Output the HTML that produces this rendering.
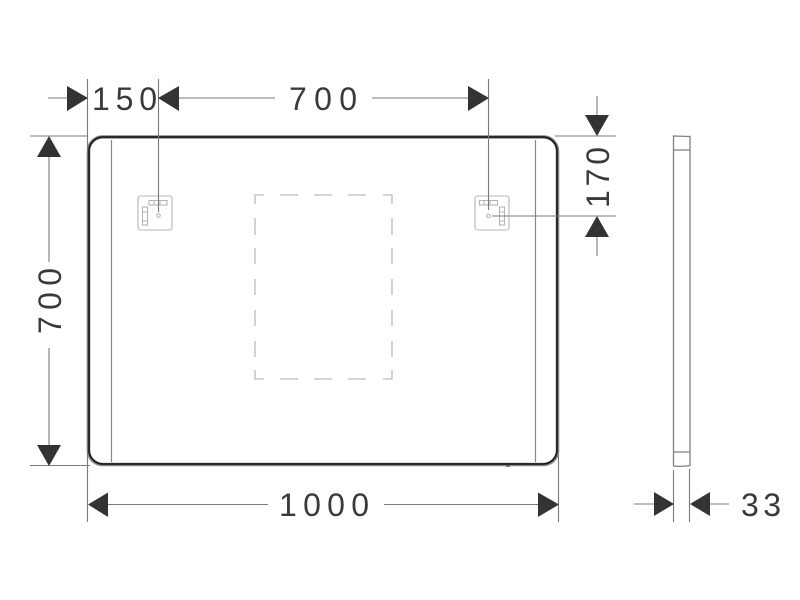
<!DOCTYPE html>
<html>
<head>
<meta charset="utf-8">
<style>
html,body{margin:0;padding:0;background:#fff;width:800px;height:600px;overflow:hidden}
svg{display:block}
text{font-family:"Liberation Sans",sans-serif;font-size:32px;fill:#3a3a3a}
</style>
</head>
<body>
<svg width="800" height="600" viewBox="0 0 800 600" xmlns="http://www.w3.org/2000/svg">
<rect width="800" height="600" fill="#fff"/>

<!-- mirror outline -->
<rect x="88.5" y="137" width="469" height="327.5" rx="14" fill="none" stroke="#888" stroke-width="3.6"/>
<rect x="89" y="137" width="468" height="327" rx="14" fill="none" stroke="#1c1c1c" stroke-width="1.8"/>
<path d="M111.5 140V462M535.5 140V462" stroke="#888" stroke-width="1.2" fill="none"/>
<path d="M506 466h4" stroke="#555" stroke-width="1.5"/>

<!-- dashed rectangle -->
<g fill="none" stroke="#bbb" stroke-width="1.300">
<path d="M264 195H255V204M383 195H392V204"/>
<path d="M264 379H255V370M383 379H392V370"/>
<path d="M280 195H298M314 195H332M348 195H366"/>
<path d="M280 379H298M314 379H332M348 379H366"/>
<path d="M255 218V235M255 248V264M255 279V295M255 310V326M255 341V357"/>
<path d="M392 218V235M392 248V264M392 279V295M392 310V326M392 341V357"/>
</g>

<!-- left bracket -->
<g fill="none" stroke="#b5b5b5" stroke-width="1.100">
<rect x="138" y="196" width="34" height="34" rx="2.500"/>
<rect x="149" y="200.500" width="18" height="4.500"/>
<path d="M154 200.500v4.500M160 200.500v4.500"/>
<rect x="142.500" y="207" width="5" height="18"/>
<path d="M142.500 212h5M142.500 221h5"/>
<circle cx="158.500" cy="215.500" r="1.800"/>
</g>

<!-- right bracket -->
<g fill="none" stroke="#b5b5b5" stroke-width="1.100">
<rect x="475" y="196" width="34" height="34" rx="2.500"/>
<rect x="479.500" y="200.500" width="18" height="4.500"/>
<path d="M484 200.500v4.500M490 200.500v4.500"/>
<rect x="499.500" y="207" width="5" height="18"/>
<path d="M499.500 212h5M499.500 221h5"/>
<circle cx="488.500" cy="216" r="1.800"/>
</g>

<!-- extension and dimension lines -->
<g stroke="#7a7a7a" stroke-width="1.100" fill="none">
<path d="M87.500 79V522"/>
<path d="M158.500 79V212"/>
<path d="M488.500 79V210"/>
<path d="M30 136H88M555 136H616"/>
<path d="M30 465.500H90"/>
<path d="M492 216H616"/>
<path d="M558.500 450V522"/>
<path d="M48 98H67M179 98H275M372 98H468"/>
<path d="M49 157V262M49 348V445"/>
<path d="M108 504.500H268M384 504.500H538"/>
<path d="M597 96V115M597 237V256"/>
<path d="M673.500 470V522M689.500 469V522"/>
<path d="M634 504H654M710 504H729"/>
</g>

<!-- side view -->
<g stroke="#808080" stroke-width="1.300" fill="none">
<path d="M673.500 136L690 136.500V465.500Q682 467 673.500 466Z"/>
<path d="M673.500 150H690M673.500 452H690"/>
</g>

<!-- arrowheads -->
<g fill="#333">
<path d="M88 98L67 86V111Z"/>
<path d="M158 98L179 86V111Z"/>
<path d="M489 98L468 86V111Z"/>
<path d="M49 136L37 157H61Z"/>
<path d="M49 466L37 445H61Z"/>
<path d="M88 504.500L108 492.500V517Z"/>
<path d="M559 504.500L538 492.500V517Z"/>
<path d="M597 136L585 115H609Z"/>
<path d="M597 216L585 237H609Z"/>
<path d="M674 504L654 492V516Z"/>
<path d="M690 504L710 492V516Z"/>
</g>

<!-- labels -->
<text x="92" y="110" textLength="65" lengthAdjust="spacing">150</text>
<text x="289" y="110" textLength="68" lengthAdjust="spacing">700</text>
<text x="279" y="516" textLength="90" lengthAdjust="spacing">1000</text>
<text x="741" y="516" textLength="40" lengthAdjust="spacing">33</text>
<text transform="translate(61 334) rotate(-90)" textLength="66" lengthAdjust="spacing">700</text>
<text transform="translate(609 208) rotate(-90)" textLength="61" lengthAdjust="spacing">170</text>
</svg>
</body>
</html>
